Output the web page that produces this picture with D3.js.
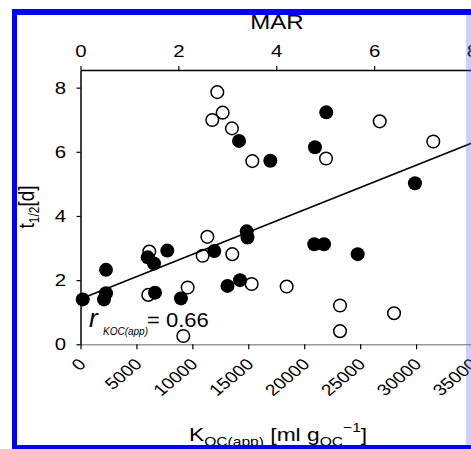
<!DOCTYPE html>
<html>
<head>
<meta charset="utf-8">
<script src="https://cdn.jsdelivr.net/npm/d3@7/dist/d3.min.js"></script>
<style>
  body { margin: 0; background: #fff; }
  text { font-family: Arial, "Liberation Sans", sans-serif; fill: #000; }
</style>
</head>
<body>
<div id="chart"></div>
<script>
var width = 471;
var height = 449;

// open circles: K_OC(app) [ml/g] and t1/2 [d]
var openK = [12230, 12710, 11780, 13540, 15360, 21950, 26750, 31540, 6150, 6060,
             9580, 10920, 11340, 13570, 15300, 18430, 23200, 23200, 28030, 9190];
var openT = [7.86, 7.22, 6.99, 6.73, 5.71, 5.79, 6.95, 6.32, 2.89, 1.54,
             1.77, 2.76, 3.35, 2.81, 1.88, 1.80, 1.21, 0.41, 0.97, 0.26];

// filled circles
var filledK = [200, 2100, 2280, 2280, 6010, 6570, 7760, 6660, 8980, 11960, 14860,
               14930, 13140, 14260, 14170, 16970, 21970, 20960, 29900, 20900, 21770, 24780];
var filledT = [1.40, 1.40, 1.59, 2.32, 2.71, 2.52, 2.92, 1.61, 1.43, 2.91, 3.52,
               3.33, 1.82, 2.00, 6.34, 5.72, 7.23, 6.14, 5.02, 3.12, 3.12, 2.81];

var xTicks = [0, 5000, 10000, 15000, 20000, 25000, 30000, 35000];
var yTicks = [0, 2, 4, 6, 8];
var marTicks = [0, 2, 4, 6, 8];

// regression line t = a + b*K
var fitA = 1.41;
var fitB = 0.000139;
var fitRange = [0, 35000];
var rText = "= 0.66";

var SX = 1.2; // text in the figure is a bit wide

var svg = d3.select("#chart")
  .append("svg")
    .attr("width", width)
    .attr("height", height);

var x = d3.scaleLinear().domain([0, 35000]).range([80.5, 472]);
var mar = d3.scaleLinear().domain([0, 8]).range([80.5, 472]);
var y = d3.scaleLinear().domain([0, 8.55]).range([344.3, 70]);

// bottom axis (grey line)
var gx = svg.append("g")
  .attr("transform", "translate(0," + y(0) + ")")
  .call(d3.axisBottom(x).tickValues(xTicks).tickSize(5).tickSizeOuter(0).tickFormat(d3.format("d")));
gx.select(".domain").attr("stroke", "#999").attr("stroke-width", 1.5);
gx.selectAll(".tick line").attr("stroke", "#000").attr("stroke-width", 1.2);
gx.selectAll(".tick text")
  .attr("x", null).attr("y", null).attr("dy", null)
  .style("font-size", "16px")
  .style("text-anchor", "end")
  .attr("transform", "translate(6,21) scale(" + SX + ",1) rotate(-45)");

// top axis MAR
var gt = svg.append("g")
  .attr("transform", "translate(0," + y.range()[1] + ")")
  .call(d3.axisTop(mar).tickValues(marTicks).tickSize(4).tickSizeOuter(0));
gt.select(".domain").attr("stroke-width", 1.5);
gt.selectAll(".tick line").attr("stroke-width", 1.2);
gt.selectAll(".tick text")
  .attr("y", -13).attr("dy", null)
  .style("font-size", "17px")
  .attr("transform", "scale(" + SX + ",1)");

// left axis
var gy = svg.append("g")
  .attr("transform", "translate(" + x(0) + ",0)")
  .call(d3.axisLeft(y).tickValues(yTicks).tickSize(4).tickSizeOuter(0));
gy.select(".domain").attr("stroke-width", 1.5);
gy.selectAll(".tick line").attr("stroke-width", 1.2);
gy.selectAll(".tick text")
  .attr("x", -14.5 / SX)
  .style("font-size", "17px")
  .attr("transform", "scale(" + SX + ",1)");
svg.selectAll(".tick text").attr("fill", "#000").style("font-family", "Arial, 'Liberation Sans', sans-serif");

// markers
var openData = openK.map(function(k, i){ return {k: k, t: openT[i]}; });
var filledData = filledK.map(function(k, i){ return {k: k, t: filledT[i]}; });

svg.append("g")
  .selectAll("circle")
  .data(openData)
  .enter()
  .append("circle")
    .attr("cx", d => x(d.k))
    .attr("cy", d => y(d.t))
    .attr("r", 6.3)
    .style("fill", "#fff")
    .attr("stroke", "#000")
    .style("stroke-width", 1.5);

svg.append("g")
  .selectAll("circle")
  .data(filledData)
  .enter()
  .append("circle")
    .attr("cx", d => x(d.k))
    .attr("cy", d => y(d.t))
    .attr("r", 7)
    .style("fill", "#000");

// regression line
var line = d3.line().x(d => x(d)).y(d => y(fitA + fitB * d));
svg.append("path")
  .attr("d", line(fitRange))
  .attr("fill", "none")
  .attr("stroke", "#000")
  .attr("stroke-width", 1.5);

// r label
svg.append("text")
  .attr("transform", "translate(89,327)")
  .style("font-size", "26px")
  .style("font-style", "italic")
  .text("r");
svg.append("text")
  .attr("transform", "translate(103,335)")
  .style("font-size", "10px")
  .style("font-style", "italic")
  .text("KOC(app)");
svg.append("text")
  .attr("transform", "translate(147,327) scale(1.1,1)")
  .style("font-size", "20px")
  .text(rText);

// axis titles
svg.append("text")
  .attr("transform", "translate(277,28.5) scale(" + SX + ",1)")
  .style("font-size", "20px")
  .style("text-anchor", "middle")
  .text("MAR");

var yl = svg.append("text")
  .attr("transform", "translate(34,207) scale(1.15,1) rotate(-90)")
  .style("font-size", "19px")
  .style("text-anchor", "middle");
yl.append("tspan").text("t");
yl.append("tspan").attr("dy", 4).style("font-size", "12px").text("1/2");
yl.append("tspan").attr("dy", -4).text("[d]");

var xl = svg.append("text")
  .attr("transform", "translate(189,441) scale(" + SX + ",1)")
  .style("font-size", "19px");
xl.append("tspan").text("K");
xl.append("tspan").attr("dy", 5).style("font-size", "13px").text("OC(app)");
xl.append("tspan").attr("dy", -5).text(" [ml g");
xl.append("tspan").attr("dy", 5).style("font-size", "13px").text("OC");
xl.append("tspan").attr("dy", -14).style("font-size", "13px").text("\u22121");
xl.append("tspan").attr("dy", 9).text("]");

// blue frame
var frame = svg.append("g");
frame.append("rect").attr("x", 12).attr("y", 9).attr("width", 5).attr("height", 440).attr("fill", "#0000f5");
frame.append("rect").attr("x", 12).attr("y", 9).attr("width", 459).attr("height", 6).attr("fill", "#0000f5");
frame.append("rect").attr("x", 12).attr("y", 445).attr("width", 459).attr("height", 4).attr("fill", "#0000f5");
frame.append("rect").attr("x", 466).attr("y", 15).attr("width", 5).attr("height", 430)
  .attr("fill", "#6060ff").attr("opacity", 0.3);
</script>
</body>
</html>
